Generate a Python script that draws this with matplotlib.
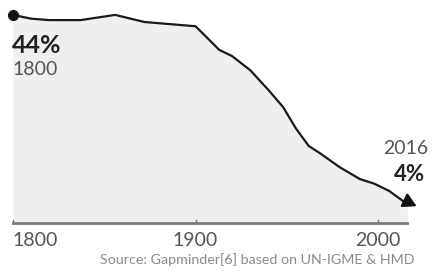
import numpy as np
import matplotlib.pyplot as plt

plt.rcParams['font.family'] = ['Lato', 'DejaVu Sans']

# child mortality share (%)
years = [1800, 1810, 1820, 1837, 1856, 1872, 1900, 1905, 1913, 1920, 1930,
         1940, 1948, 1955, 1962, 1968, 1979, 1990, 1998, 2006, 2016]
mortality = [44, 43.2, 42.9, 42.9, 44.0, 42.5, 41.6, 39.7, 36.6, 35.3, 32.3,
             28.1, 24.5, 20.0, 16.3, 14.8, 11.8, 9.3, 8.3, 6.8, 4.0]
tick_years = [1800, 1900, 2000]
source = 'Source: Gapminder[6] based on UN-IGME & HMD'

fig = plt.figure(figsize=(4.35, 2.73), dpi=100)
ax = fig.add_axes([0, 0, 1, 1])
ax.set_xlim(1792.9, 2031.2)
ax.set_ylim(-10.57, 47.15)
ax.axis('off')

ax.fill_between(years, mortality, 0, color='#efefef', lw=0)
ax.plot(years, mortality, color='#1a1a1a', lw=1.6, solid_capstyle='round')
ax.plot(years[0], mortality[0], 'o', color='#111111', ms=7)

# arrow head at the end
ax.annotate('', xy=(years[-1] + 6.5, mortality[-1] - 0.7),
            xytext=(years[-1] - 2, mortality[-1] + 0.9),
            arrowprops=dict(arrowstyle='-|>,head_length=0.8,head_width=0.45',
                            color='#111111', lw=1.6))

# axis line and ticks
ax.plot([years[0], years[-1]], [0, 0], color='#7a7a7a', lw=2)
for t in tick_years:
    ax.plot([t, t], [0, 0.6], color='#7a7a7a', lw=1)
    ax.text(t, -1.9, str(t), ha='center' if t != 1800 else 'left',
            va='top', fontsize=14, color='#555555')

ax.text(years[0] - 0.3, 37.5, '44%', fontsize=18, fontweight='bold',
        color='#222222', ha='left', va='center')
ax.text(years[0] - 0.5, 32.4, '1800', fontsize=14, color='#555555',
        ha='left', va='center')
ax.text(2027.5, 15.8, '2016', fontsize=14, color='#555555',
        ha='right', va='center')
ax.text(2025.7, 10.2, '4%', fontsize=16, fontweight='bold',
        color='#222222', ha='right', va='center')

ax.text(2020, -7.8, source, fontsize=10.3, color='#8a8a8a', ha='right',
        va='center')

fig.savefig('out.png', dpi=100)
